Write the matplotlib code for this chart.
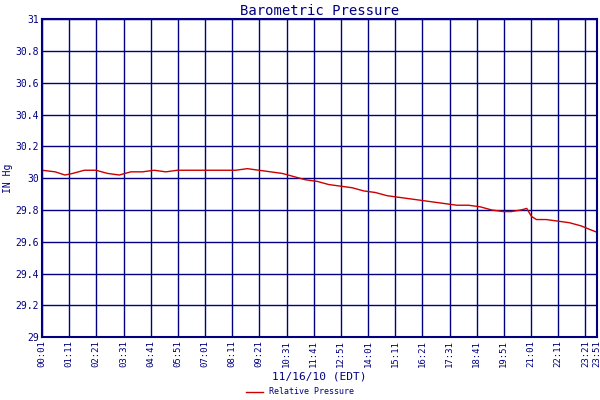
import matplotlib
matplotlib.use("Agg")
import matplotlib.pyplot as plt

tick_labels = ["00:01","01:11","02:21","03:31","04:41","05:51","07:01","08:11","09:21","10:31",
               "11:41","12:51","14:01","15:11","16:21","17:31","18:41","19:51","21:01","22:11",
               "23:21","23:51"]
tick_minutes = [1 + 70*i for i in range(21)] + [1431]

# minutes since midnight, pressure (IN Hg)
minutes = [1, 35, 60, 80, 110, 140, 170, 200, 230, 260, 290, 320, 350, 380, 410, 440, 470, 500,
           530, 560, 590, 620, 650, 680, 710, 740, 770, 800, 830, 860, 890, 920, 950, 980,
           1010, 1040, 1070, 1100, 1130, 1160, 1190, 1210, 1235, 1250, 1262, 1275, 1300, 1330,
           1360, 1390, 1410, 1431]
pressure = [30.05, 30.04, 30.02, 30.03, 30.05, 30.05, 30.03, 30.02, 30.04, 30.04, 30.05, 30.04,
            30.05, 30.05, 30.05, 30.05, 30.05, 30.05, 30.06, 30.05, 30.04, 30.03, 30.01, 29.99,
            29.98, 29.96, 29.95, 29.94, 29.92, 29.91, 29.89, 29.88, 29.87, 29.86, 29.85, 29.84,
            29.83, 29.83, 29.82, 29.80, 29.79, 29.79, 29.80, 29.81, 29.76, 29.74, 29.74, 29.73,
            29.72, 29.70, 29.68, 29.66]

navy = "#000080"
plt.rcParams["font.family"] = "DejaVu Sans Mono"
fig = plt.figure(figsize=(6, 4), dpi=100)
ax = fig.add_axes([0.07, 0.157, 0.925, 0.795])
ax.plot(minutes, pressure, color="#cc0000", lw=1, label="Relative Pressure")
ax.set_xlim(1, 1431)
ax.set_ylim(29, 31)
ax.set_xticks(tick_minutes)
ax.set_xticklabels(tick_labels, rotation=90, fontsize=6.5, color=navy)
ax.set_yticks([29 + 0.2*i for i in range(11)])
ax.set_yticklabels(["29","29.2","29.4","29.6","29.8","30","30.2","30.4","30.6","30.8","31"],
                   fontsize=7, color=navy)
ax.tick_params(length=0, pad=2)
ax.grid(True, color=navy, lw=1)
for s in ax.spines.values():
    s.set_color(navy); s.set_linewidth(1.5)
ax.set_title("Barometric Pressure", color=navy, fontsize=10, pad=3)
ax.set_ylabel("IN Hg", color=navy, fontsize=7, labelpad=2)
ax.set_xlabel("11/16/10 (EDT)", color=navy, fontsize=8, labelpad=3)
fig.legend(loc="lower center", bbox_to_anchor=(0.5, -0.01), frameon=False, fontsize=6,
           labelcolor=navy, handlelength=2)
fig.savefig("out.png", dpi=100)
